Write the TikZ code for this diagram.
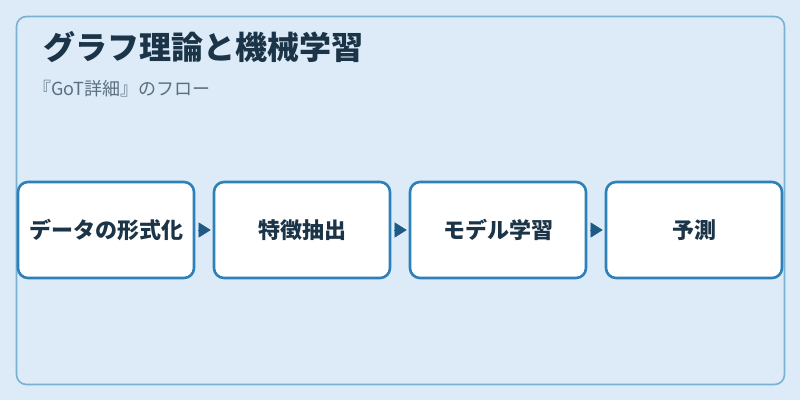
\documentclass[tikz,border=0pt]{standalone}
\usepackage{fontspec}
\setmainfont{Noto Sans CJK JP}
\usetikzlibrary{arrows.meta}
\definecolor{bgc}{HTML}{DCEBF7}
\definecolor{framec}{HTML}{7BB0D5}
\definecolor{boxc}{HTML}{2E80B8}
\definecolor{textc}{HTML}{1B3447}
\definecolor{subc}{HTML}{5B6F80}
\definecolor{arrowc}{HTML}{1F5A87}
\tikzset{
  stepbox/.style={draw=boxc, line width=2.6pt, fill=white, rounded corners=10pt,
    minimum width=176pt, minimum height=96pt, inner sep=0pt,
    font=\fontsize{22}{26}\selectfont\bfseries, text=textc},
  flow/.style={draw=arrowc, line width=0.5pt,
    -{Triangle[length=12pt,width=15pt]}, shorten <=3pt, shorten >=2pt},
}
\begin{document}
\begin{tikzpicture}[x=1pt,y=-1pt]
\fill[bgc] (0,0) rectangle (800,400);
\useasboundingbox (0,0) rectangle (800,400);
\draw[framec, line width=1.6pt, rounded corners=10pt] (16.5,16.5) rectangle (784.5,384.5);
\node[anchor=west, text=textc, font=\fontsize{32}{38}\selectfont\bfseries] (title) at (40,47) {グラフ理論と機械学習};
\node[anchor=west, text=subc, font=\fontsize{18}{22}\selectfont, inner sep=0pt] (sub) at (33,89) {『GoT詳細』のフロー};
\node[stepbox] (b1) at (106,230) {データの形式化};
\node[stepbox] (b2) at (302,230) {特徴抽出};
\node[stepbox] (b3) at (498,230) {モデル学習};
\node[stepbox] (b4) at (694,230) {予測};
\draw[flow] (b1.east) -- (b2.west);
\draw[flow] (b2.east) -- (b3.west);
\draw[flow] (b3.east) -- (b4.west);
\end{tikzpicture}
\end{document}
